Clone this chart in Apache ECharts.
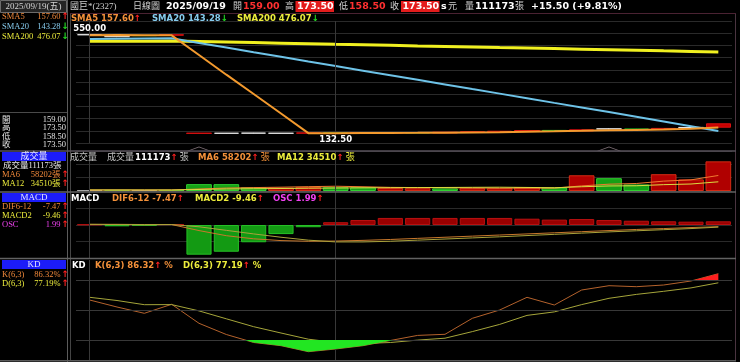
<!DOCTYPE html>
<html>
<head>
<meta charset="utf-8">
<title>國巨 日線圖</title>
<script src="https://cdn.jsdelivr.net/npm/echarts@6.0.0/dist/echarts.min.js"></script>
<style>
html,body{margin:0;padding:0;background:#000;overflow:hidden;}
#chart{width:740px;height:362px;}
</style>
</head>
<body>
<div id="chart"></div>
<script>
// ---------------- data ----------------
const stockName = '國巨*(2327)';
const periodName = '日線圖';
const dates = ['2025-08-01','2025-08-04','2025-08-05','2025-08-06','2025-08-25','2025-08-26','2025-08-27','2025-08-28','2025-08-29',
  '2025-09-01','2025-09-02','2025-09-03','2025-09-04','2025-09-05','2025-09-08','2025-09-09','2025-09-10','2025-09-11','2025-09-12',
  '2025-09-15','2025-09-16','2025-09-17','2025-09-18','2025-09-19'];
const open  = [549, 541, 546, 547, 133, 133.5, 134, 133.5, 134, 135, 134, 135.5, 136, 135, 138, 140, 142, 145.5, 143.5, 152, 151.5, 151, 158, 159];
const high  = [550, 543, 547, 549.5, 135, 134.5, 135, 134, 136, 135.5, 136.5, 137, 136.5, 138.5, 141, 143, 146, 146, 149, 153.5, 152, 155, 159.5, 173.5];
const low   = [547, 539, 544, 546, 133, 133, 133.5, 133, 133.5, 132.5, 133.5, 135, 134.5, 135, 137.5, 139.5, 141.5, 142.5, 143, 150.5, 149, 150.5, 156, 158.5];
const close = [549, 541, 545, 549, 134, 133.5, 134, 133.5, 135, 134, 136, 136, 135, 138, 140, 142, 145, 143, 148, 152, 150, 154, 158, 173.5];
const sma5   = [547, 547.5, 546.5, 546.5, 463.6, 380.5, 299.1, 216.8, 134, 134, 134.5, 134.9, 135.2, 135.8, 137, 138.2, 140, 141.6, 143.6, 146, 147.6, 149.4, 152.4, 157.6];
const sma20  = [531, 532, 533, 534, 514, 494.8, 475.1, 455.9, 436.2, 416.8, 397.2, 377.9, 358.8, 339.3, 319.8, 300.6, 281.2, 261.6, 242.4, 222.8, 203.1, 183.2, 163.4, 143.28];
const sma200 = [521, 521.5, 522, 522.5, 520.2, 517.9, 515.8, 513.4, 511.2, 508.9, 506.7, 504.3, 502.0, 499.8, 497.4, 495.1, 492.9, 490.6, 488.2, 485.9, 483.5, 481.0, 478.6, 476.07];
const volume = [3500, 4000, 3200, 4200, 25700, 25700, 14000, 12800, 15300, 14000, 14000, 11500, 10500, 10000, 10500, 10500, 15000, 13000, 59000, 48000, 24500, 63000, 43500, 111173];
const volDir = [0, -1, 0, -1, -1, -1, -1, 1, 1, -1, -1, 1, 1, -1, 1, 1, 1, -1, 1, -1, -1, 1, 1, 1];
const volMa6  = [3800, 3800, 3700, 3800, 7400, 11050, 12800, 14270, 16280, 17920, 15970, 13600, 12850, 12220, 11250, 10500, 10670, 10830, 19080, 25580, 28080, 37000, 41750, 58202];
const volMa12 = [4000, 4000, 3900, 3900, 5700, 7600, 8500, 9300, 10300, 11300, 12000, 12330, 12830, 13240, 13770, 14210, 13320, 12220, 15970, 18900, 19670, 23750, 26210, 34510];
const dif   = [3, 2, 1, 2, -25, -48, -62, -70, -73, -72, -69, -65, -60, -55, -50, -45, -40, -35, -30, -25, -20, -16, -11.5, -7.47];
const macd2 = [3, 3, 2, 2, -8, -24, -40, -55, -68, -76, -76, -73, -68, -63, -58, -53, -47.5, -42, -36.5, -31, -26, -21, -16, -9.46];
const osc   = [0.3, -0.7, -0.4, 0.5, -16, -14.4, -9.3, -4.9, -1.2, 1.5, 2.7, 3.8, 3.8, 3.8, 3.8, 3.8, 3.4, 2.9, 3.2, 2.7, 2.3, 2.0, 1.8, 1.99];
const kVal  = [60, 53, 46.7, 55.7, 36.7, 25.5, 17.5, 14.3, 8.3, 11, 14.3, 19.5, 24.6, 25.7, 41.7, 50, 62.7, 55, 70, 74.3, 73.3, 75, 79, 86.32];
const dVal  = [62.7, 59.5, 55.3, 55.4, 49.1, 41.2, 33.3, 27, 20.8, 17.5, 16.5, 17.5, 19.9, 21.8, 28.4, 35.6, 44.6, 48.1, 55.4, 61.7, 65.6, 68.7, 72.1, 77.19];
const eventIdx = [4, 19];
const kdLevels = [20, 50, 80];

// ---------------- helpers ----------------
const N = dates.length, L = N - 1;
const last = a => a[a.length - 1];
const f2 = v => Number(v).toFixed(2);
const RED_A = '#ff2020', GRN_A = '#22dd22';
const arrow = a => (a[a.length - 1] >= a[a.length - 2]) ? {ch: '↑', c: RED_A} : {ch: '↓', c: GRN_A};

const SER9 = '9px "Liberation Serif", "Noto Sans CJK TC", serif';
const SER8 = '8.5px "Liberation Serif", "Noto Sans CJK TC", serif';
const HDR = 'bold 9.5px "DejaVu Sans", sans-serif';
const LEG = 'bold 8.5px "DejaVu Sans", sans-serif';
const GRAY_T = '#d0d0d0';
const C_OR = '#f4913a', C_BL = '#86cbee', C_YE = '#ecec3c', C_MG = '#f040f0';

function txt(x, y, text, fill, font, align) {
  return {type: 'text', x: x, y: y, silent: true, z: 10,
    style: {text: text, fill: fill, font: font, align: align || 'left', textAlign: align || 'left',
      verticalAlign: 'middle', textVerticalAlign: 'middle'}};
}
function rect(x, y, w, h, fill, stroke) {
  return {type: 'rect', silent: true, z: 9, shape: {x: x, y: y, width: w, height: h},
    style: {fill: fill, stroke: stroke || null, lineWidth: 1}};
}
function hline(x1, x2, y, color, w) {
  return {type: 'line', silent: true, z: 8, shape: {x1: x1, y1: y, x2: x2, y2: y}, style: {stroke: color, lineWidth: w || 1}};
}
function vline(x, y1, y2, color, w) {
  return {type: 'line', silent: true, z: 8, shape: {x1: x, y1: y1, x2: x, y2: y2}, style: {stroke: color, lineWidth: w || 1}};
}
function leg(x, y, label, color, arr, tail, tailColor, tailFont) {
  let text = '{a|' + label + '}{b|' + arr.ch + '}';
  const rich = {a: {fill: color, font: LEG}, b: {fill: arr.c, font: LEG}};
  if (tail) { text += '{c|' + tail + '}'; rich.c = {fill: tailColor || color, font: tailFont || LEG}; }
  return {type: 'text', x: x, y: y, silent: true, z: 10,
    style: {text: text, rich: rich, verticalAlign: 'middle', textVerticalAlign: 'middle'}};
}
function sideRow(y, label, value, color, arr, valColor) {
  const out = [txt(2, y, label, color, SER8), txt(arr ? 60.5 : 66, y, value, valColor || color, SER8, 'right')];
  if (arr) out.push(txt(61.5, y, arr.ch, arr.c, 'bold 9px "DejaVu Sans", sans-serif'));
  return out;
}
function blueBox(y, label) {
  return [rect(2, y, 64, 9, '#1c1cf8'), txt(34, y + 4.7, label, '#e6e6ff', SER9, 'center')];
}

// ---------------- derived values ----------------
const dateStr = dates[L].replace(/-/g, '/');
const wk = '日一二三四五六'[new Date(dates[L] + 'T00:00:00Z').getUTCDay()];
const chg = close[L] - close[L - 1];
const pct = chg / close[L - 1] * 100;
const chgStr = (chg >= 0 ? '+' : '') + f2(chg) + ' (' + (pct >= 0 ? '+' : '') + f2(pct) + '%)';
const monthStarts = dates.filter((d, i) => i === 0 || d.slice(0, 7) !== dates[i - 1].slice(0, 7));
const vLineData = monthStarts.map(d => ({xAxis: d}));
const markStyle = {color: '#383838', width: 1, type: 'solid'};
function marks(extra) {
  return {silent: true, symbol: ['none', 'none'], label: {show: false}, lineStyle: markStyle,
    animation: false, data: vLineData.concat(extra || [])};
}

// ---------------- layout ----------------
const GL = 76, GR = 8;
const grids = [
  {left: GL, right: GR, top: 21, height: 122},
  {left: GL, right: GR, top: 151, height: 40},
  {left: GL, right: GR, top: 191.6, height: 66.8},
  {left: GL, right: GR, top: 260, height: 100}
];
const xAxes = grids.map((g, i) => ({type: 'category', gridIndex: i, data: dates, boundaryGap: true, show: false}));
const hid = {axisLine: {show: false}, axisTick: {show: false}, axisLabel: {show: false}};
const gridLine = {show: true, lineStyle: {color: '#2a2a2a', width: 1}};
const yAxes = [
  Object.assign({gridIndex: 0, type: 'value', min: 92.44, max: 606.9, splitLine: {show: false}}, hid),
  Object.assign({gridIndex: 0, type: 'value', min: 0, max: 10, interval: 1, splitLine: gridLine}, hid),
  Object.assign({gridIndex: 1, type: 'value', min: 0, max: 150000, interval: 50000, splitLine: gridLine}, hid),
  Object.assign({gridIndex: 2, type: 'value', min: -18, max: 18, interval: 9, splitLine: gridLine}, hid),
  Object.assign({gridIndex: 2, type: 'value', min: -150, max: 150, splitLine: {show: false}}, hid),
  Object.assign({gridIndex: 3, type: 'value', min: 0, max: 100, splitLine: {show: false}}, hid),
  Object.assign({gridIndex: 1, type: 'value', min: 0, max: 1, splitLine: {show: false}}, hid)
];

const volRed = {color: '#b00000', borderColor: '#d42a14', borderWidth: 1};
const volGrn = {color: '#16a016', borderColor: '#30d030', borderWidth: 1};
const volGry = {color: '#8a8a8a', borderColor: '#a8a8a8', borderWidth: 1};
const oscRed = {color: '#990000', borderColor: '#b81010', borderWidth: 1};
const oscGrn = {color: '#139a13', borderColor: '#26c026', borderWidth: 1};

const lineS = (name, data, xi, yi, color, w, z) => ({type: 'line', name: name, data: data, xAxisIndex: xi, yAxisIndex: yi,
  symbol: 'none', silent: true, z: z || 3, lineStyle: {color: color, width: w}});

const series = [
  {type: 'candlestick', name: 'K', xAxisIndex: 0, yAxisIndex: 0, z: 2, barWidth: '92%',
    data: dates.map((d, i) => [open[i], close[i], low[i], high[i]]),
    itemStyle: {color: '#c80000', color0: '#10a010', borderColor: '#d81010', borderColor0: '#22c022',
      borderColorDoji: '#e6e6e6', borderWidth: 1},
    markPoint: {symbol: 'circle', symbolSize: 1, itemStyle: {color: 'rgba(0,0,0,0)'}, silent: true, animation: false,
      label: {show: true, color: '#ffffff', fontFamily: 'DejaVu Sans', fontWeight: 'bold', fontSize: 8.5,
        formatter: p => f2(p.value)},
      data: [{type: 'max', valueDim: 'highest', label: {position: 'top', distance: 1}},
             {type: 'min', valueDim: 'lowest', label: {position: 'bottom', distance: 1}}]},
    markLine: marks()},
  lineS('SMA200', sma200, 0, 0, '#f0f020', 3, 3),
  lineS('SMA20', sma20, 0, 0, '#6ec3e8', 2, 4),
  lineS('SMA5', sma5, 0, 0, '#f39a2e', 2, 5),
  {type: 'bar', name: 'VOL', xAxisIndex: 1, yAxisIndex: 2, barWidth: '94%', silent: true,
    data: volume.map((v, i) => ({value: v, itemStyle: volDir[i] > 0 ? volRed : (volDir[i] < 0 ? volGrn : volGry)})),
    markLine: marks()},
  lineS('MA6', volMa6, 1, 2, '#f07a30', 1, 4),
  lineS('MA12', volMa12, 1, 2, '#dada40', 1, 4),
  {type: 'scatter', name: 'event', xAxisIndex: 1, yAxisIndex: 6, clip: false, silent: true, z: 6,
    data: eventIdx.map(i => [dates[i], 1]),
    symbol: 'path://M0,10L10,0L20,10', symbolSize: [22, 4], symbolOffset: [0, -2],
    itemStyle: {color: 'rgba(0,0,0,0)', borderColor: '#9a8890', borderWidth: 1}},
  {type: 'bar', name: 'OSC', xAxisIndex: 2, yAxisIndex: 3, barWidth: '92%', silent: true,
    data: osc.map(v => ({value: v, itemStyle: v >= 0 ? oscRed : oscGrn})), markLine: marks()},
  lineS('DIF', dif, 2, 4, '#c8782c', 1, 4),
  lineS('MACD2', macd2, 2, 4, '#aaa23a', 1, 4),
  Object.assign(lineS('Kline', kVal, 3, 5, '#b4622c', 1, 3), {markLine: marks(kdLevels.map(v => ({yAxis: v})))}),
  lineS('Dline', dVal, 3, 5, '#a5a53a', 1, 3),
  {type: 'line', name: 'KDfill', xAxisIndex: 3, yAxisIndex: 5, data: kVal, symbol: 'none', silent: true, z: 5,
    lineStyle: {width: 0, opacity: 0}, areaStyle: {origin: kdLevels[0], opacity: 1}}
];
const fillIdx = series.length - 1;

// ---------------- text & frame graphics ----------------
const a5 = arrow(sma5), a20 = arrow(sma20), a200 = arrow(sma200);
const aV = arrow(volume), aM6 = arrow(volMa6), aM12 = arrow(volMa12);
const aDif = arrow(dif), aMacd = arrow(macd2), aOsc = arrow(osc), aK = arrow(kVal), aD = arrow(dVal);
const vol0 = String(volume[L]);
const graphics = [].concat(
  // frames
  [vline(67.5, 0, 362, '#5c5c5c'), vline(70.5, 13, 361, '#444'), vline(735.5, 13, 361, '#4a3440'),
   hline(70, 736, 13.5, '#4a2232'), hline(0, 67, 112.5, '#4a4a4a'),
   hline(0, 736, 151, '#57505a', 1.5), hline(0, 736, 192, '#626262', 1.5),
   hline(0, 736, 258.6, '#626262', 1.5), hline(0, 736, 360.8, '#5a5a5a', 1.5)],
  // header
  [rect(0.5, 0.5, 66, 12, '#242424', '#6c6c6c'),
   txt(33.5, 7, dateStr + '(' + wk + ')', '#d4d4d4', SER9, 'center'),
   txt(70, 7, stockName, GRAY_T, SER9), txt(133, 7, periodName, GRAY_T, SER9),
   txt(166, 7, dateStr, '#ffffff', HDR),
   txt(233, 7, '開', GRAY_T, SER9), txt(243, 7, f2(open[L]), '#ff3030', HDR),
   txt(285, 7, '高', GRAY_T, SER9), rect(295.5, 1, 38.5, 11, '#e41c1c'), txt(297, 7, f2(high[L]), '#ffffff', HDR),
   txt(339, 7, '低', GRAY_T, SER9), txt(349, 7, f2(low[L]), '#ff3030', HDR),
   txt(390, 7, '收', GRAY_T, SER9), rect(401, 1, 38.5, 11, '#e41c1c'), txt(402.5, 7, f2(close[L]), '#ffffff', HDR),
   txt(441, 7, 's', '#ffffff', HDR), txt(448, 7, '元', GRAY_T, SER9),
   txt(465, 7, '量', GRAY_T, SER9), txt(475, 7, vol0, '#ffffff', HDR), txt(515, 7, '張', GRAY_T, SER9),
   txt(531, 7, chgStr, '#ffffff', HDR)],
  // left side panel
  sideRow(17, 'SMA5', f2(last(sma5)), '#f0883a', a5),
  sideRow(27, 'SMA20', f2(last(sma20)), C_BL, a20),
  sideRow(36.7, 'SMA200', f2(last(sma200)), C_YE, a200),
  sideRow(119.5, '開', f2(open[L]), '#e2e2e2'),
  sideRow(128, '高', f2(high[L]), '#e2e2e2'),
  sideRow(136.5, '低', f2(low[L]), '#e2e2e2'),
  sideRow(145, '收', f2(close[L]), '#e2e2e2'),
  blueBox(152, '成交量'),
  [txt(3, 166, '成交量' + vol0 + '張', '#e8e8e8', SER8)],
  sideRow(174.8, 'MA6', Math.round(last(volMa6)) + '張', '#f0883a', aM6),
  sideRow(183.3, 'MA12', Math.round(last(volMa12)) + '張', C_YE, aM12),
  blueBox(193, 'MACD'),
  sideRow(207, 'DIF6-12', f2(last(dif)), '#f0883a', aDif),
  sideRow(215.7, 'MACD2', f2(last(macd2)), C_YE, aMacd),
  sideRow(224.3, 'OSC', f2(last(osc)), C_MG, aOsc),
  blueBox(260, 'KD'),
  sideRow(274.3, 'K(6,3)', f2(last(kVal)) + '%', '#f0883a', aK),
  sideRow(283.3, 'D(6,3)', f2(last(dVal)) + '%', C_YE, aD),
  // panel legends
  [leg(71, 18.5, 'SMA5 ' + f2(last(sma5)), C_OR, a5),
   leg(152, 18.5, 'SMA20 ' + f2(last(sma20)), C_BL, a20),
   leg(237, 18.5, 'SMA200 ' + f2(last(sma200)), C_YE, a200),
   txt(70, 157.5, '成交量', '#c4c4c4', SER9), txt(107, 157.5, '成交量', '#c4c4c4', SER9),
   leg(135, 157.5, vol0, '#ffffff', aV, ' 張', '#c4c4c4', SER9),
   leg(198, 157.5, 'MA6 ' + Math.round(last(volMa6)), C_OR, aM6, ' 張', C_OR, SER9),
   leg(277, 157.5, 'MA12 ' + Math.round(last(volMa12)), C_YE, aM12, ' 張', C_YE, SER9),
   txt(71, 198.5, 'MACD', '#ffffff', LEG),
   leg(112, 198.5, 'DIF6-12 ' + f2(last(dif)), C_OR, aDif),
   leg(195, 198.5, 'MACD2 ' + f2(last(macd2)), C_YE, aMacd),
   leg(273, 198.5, 'OSC ' + f2(last(osc)), C_MG, aOsc),
   txt(72, 266, 'KD', '#ffffff', LEG),
   leg(95, 266, 'K(6,3) ' + f2(last(kVal)), C_OR, aK, ' %', C_OR),
   leg(183, 266, 'D(6,3) ' + f2(last(dVal)), C_YE, aD, ' %', C_YE)]
);

const option = {
  backgroundColor: '#000000',
  animation: false,
  grid: grids,
  xAxis: xAxes,
  yAxis: yAxes,
  visualMap: [{type: 'piecewise', show: false, seriesIndex: fillIdx,
    pieces: [{lt: kdLevels[0], color: '#22e622'}, {gte: kdLevels[0], lte: kdLevels[2], color: 'rgba(0,0,0,0)'},
             {gt: kdLevels[2], color: '#ff1e1e'}]}],
  series: series,
  graphic: {elements: graphics}
};
const chart = echarts.init(document.getElementById('chart'), null, {renderer: 'canvas'});
chart.setOption(option);
</script>
</body>
</html>
